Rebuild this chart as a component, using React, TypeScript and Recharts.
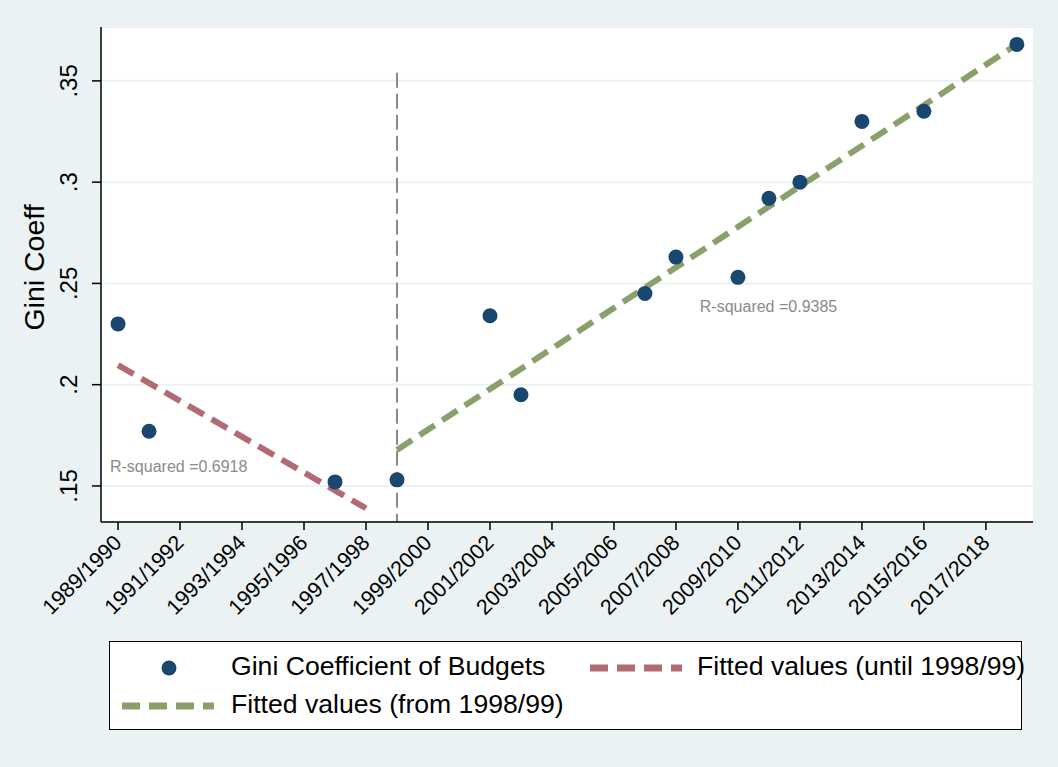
import React from 'react';
import {
  ComposedChart,
  Scatter,
  Line,
  XAxis,
  YAxis,
  CartesianGrid,
  ReferenceLine,
  ReferenceDot,
} from 'recharts';

// observed Gini coefficients (x = first year of the budget year)
const years = [1989, 1990, 1996, 1998, 2001, 2002, 2006, 2007, 2009, 2010, 2011, 2013, 2015, 2018];
const gini = [0.23, 0.177, 0.152, 0.153, 0.234, 0.195, 0.245, 0.263, 0.253, 0.292, 0.3, 0.33, 0.335, 0.368];

// fitted lines, end points
const fitUntilYears = [1989, 1997];
const fitUntilValues = [0.2097, 0.139];
const fitFromYears = [1998, 2018];
const fitFromValues = [0.1678, 0.368];

const xTicks = [1989, 1991, 1993, 1995, 1997, 1999, 2001, 2003, 2005, 2007, 2009, 2011, 2013, 2015, 2017];
const yTicks = [0.15, 0.2, 0.25, 0.3, 0.35];

const breakYear = 1998;
const rSquaredUntil = 'R-squared =0.6918';
const rSquaredFrom = 'R-squared =0.9385';

const FONT = '"Liberation Sans", Arial, Helvetica, sans-serif';
const NAVY = '#1a476f';
const RED = '#b06c72';
const GREEN = '#8aa06b';
const GREY = '#8a8a8a';
const BG = '#eaf2f3';

const points = years.map((x, i) => ({ x, y: gini[i] }));
const fitUntil = fitUntilYears.map((x, i) => ({ x, y: fitUntilValues[i] }));
const fitFrom = fitFromYears.map((x, i) => ({ x, y: fitFromValues[i] }));

const XTick = ({ x, y, payload }: any) => (
  <text
    x={x + 5}
    y={y + 12}
    transform={`rotate(-45 ${x + 5} ${y + 12})`}
    textAnchor="end"
    fontSize={21.5}
    fontFamily={FONT}
    fill="#000"
  >
    {`${payload.value}/${payload.value + 1}`}
  </text>
);

const YTick = ({ x, y, payload }: any) => (
  <text
    x={x - 13}
    y={y}
    transform={`rotate(-90 ${x - 13} ${y})`}
    textAnchor="middle"
    fontSize={24}
    fontFamily={FONT}
    fill="#000"
  >
    {String(payload.value).replace(/^0/, '')}
  </text>
);

const YLabel = ({ viewBox }: any) => {
  const cx = 44;
  const cy = viewBox.y + viewBox.height / 2 - 7;
  return (
    <text x={cx} y={cy} transform={`rotate(-90 ${cx} ${cy})`} textAnchor="middle" fontSize={28.5} fontFamily={FONT} fill="#000">
      Gini Coeff
    </text>
  );
};

const Note = (text: string) => ({ viewBox }: any) => (
  <text x={viewBox.x} y={viewBox.y} fontSize={16} fontFamily={FONT} fill={GREY}>
    {text}
  </text>
);

const Dot = (props: any) => <circle cx={props.cx} cy={props.cy} r={7.5} fill={NAVY} />;

const Swatch = ({ color }: { color: string }) => (
  <svg width={92} height={10} style={{ display: 'block' }}>
    <line x1={0} y1={5} x2={92} y2={5} stroke={color} strokeWidth={7} strokeDasharray="18 9" />
  </svg>
);

const legendText: React.CSSProperties = {
  position: 'absolute',
  fontSize: 26.6,
  fontFamily: FONT,
  color: '#000',
  lineHeight: '30px',
  whiteSpace: 'nowrap',
};

export default function App() {
  return (
    <div style={{ position: 'absolute', left: 0, top: 0, width: 1058, height: 767, background: BG }}>
      <ComposedChart width={1058} height={767} margin={{ top: 27, right: 25, bottom: 215, left: 0 }}>
        <CartesianGrid vertical={false} fill="#ffffff" stroke={BG} strokeWidth={2} />
        <XAxis
          type="number"
          dataKey="x"
          domain={[1988.45, 2018.52]}
          allowDataOverflow
          ticks={xTicks}
          interval={0}
          height={30}
          tick={<XTick />}
          tickSize={8}
          axisLine={{ stroke: '#000', strokeWidth: 1.5 }}
          tickLine={{ stroke: '#000', strokeWidth: 1.5 }}
        />
        <YAxis
          type="number"
          dataKey="y"
          domain={[0.1322, 0.3766]}
          allowDataOverflow
          ticks={yTicks}
          interval={0}
          width={101}
          tick={<YTick />}
          tickSize={9}
          axisLine={{ stroke: '#000', strokeWidth: 1.5 }}
          tickLine={{ stroke: '#000', strokeWidth: 1.5 }}
          label={<YLabel />}
        />
        <ReferenceLine
          segment={[
            { x: breakYear, y: 0.354 },
            { x: breakYear, y: 0.1322 },
          ]}
          stroke={GREY}
          strokeWidth={2}
          strokeDasharray="15 6"
        />
        <Scatter data={points} shape={<Dot />} isAnimationActive={false} />
        <Line
          data={fitUntil}
          dataKey="y"
          type="linear"
          stroke={RED}
          strokeWidth={6}
          strokeDasharray="18 9"
          dot={false}
          activeDot={false}
          isAnimationActive={false}
        />
        <Line
          data={fitFrom}
          dataKey="y"
          type="linear"
          stroke={GREEN}
          strokeWidth={6}
          strokeDasharray="18 9"
          dot={false}
          activeDot={false}
          isAnimationActive={false}
        />
        <ReferenceDot x={1988.74} y={0.157} r={0} label={Note(rSquaredUntil)} />
        <ReferenceDot x={2007.77} y={0.236} r={0} label={Note(rSquaredFrom)} />
      </ComposedChart>

      <div
        style={{
          position: 'absolute',
          left: 109,
          top: 641,
          width: 911,
          height: 87,
          background: '#fff',
          border: '1.5px solid #000',
        }}
      >
        <svg width={20} height={20} style={{ position: 'absolute', left: 49, top: 16 }}>
          <circle cx={10} cy={10} r={7.5} fill={NAVY} />
        </svg>
        <div style={{ ...legendText, left: 121, top: 9 }}>Gini Coefficient of Budgets</div>
        <div style={{ position: 'absolute', left: 480, top: 21 }}>
          <Swatch color={RED} />
        </div>
        <div style={{ ...legendText, left: 587, top: 9 }}>Fitted values (until 1998/99)</div>
        <div style={{ position: 'absolute', left: 12, top: 59 }}>
          <Swatch color={GREEN} />
        </div>
        <div style={{ ...legendText, left: 121, top: 47 }}>Fitted values (from 1998/99)</div>
      </div>
    </div>
  );
}
